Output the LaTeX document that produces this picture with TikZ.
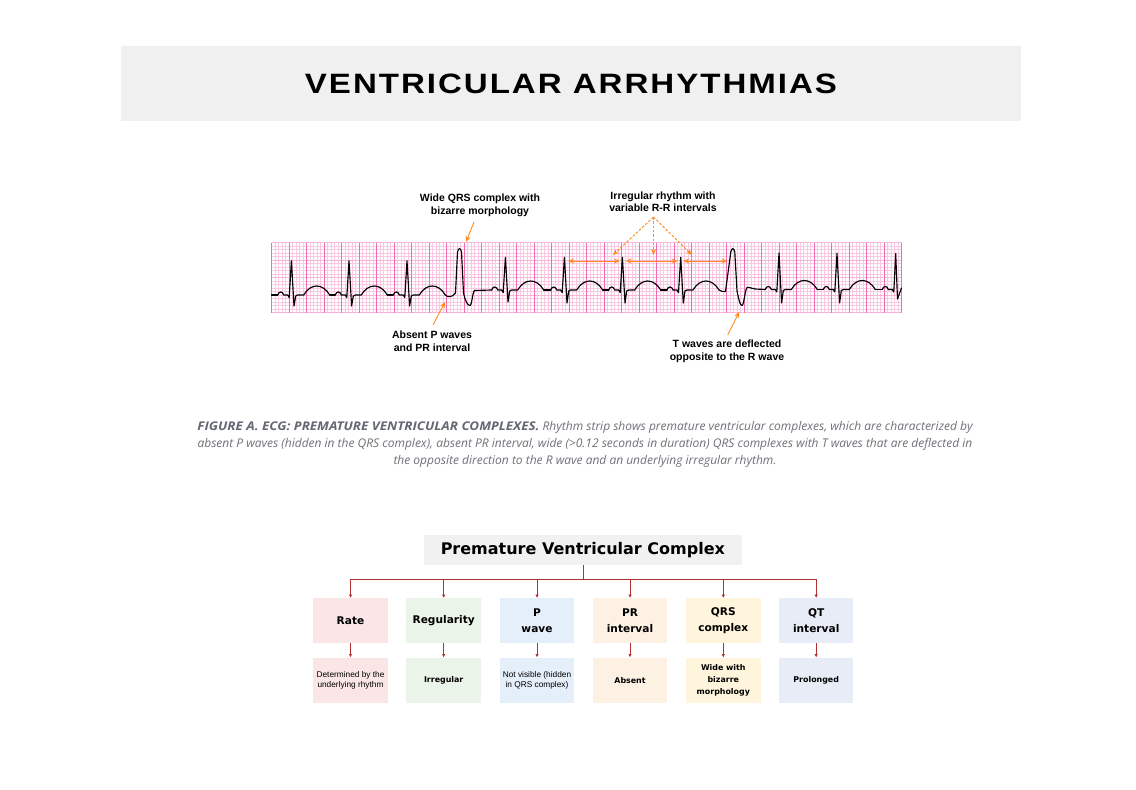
\documentclass[tikz,border=0pt]{standalone}
\usepackage{fontspec}
\usepackage{graphicx}
\usetikzlibrary{arrows.meta}
\setmainfont{Liberation Sans}
\newfontfamily\dvs{DejaVu Sans}
\newfontfamily\osans{Open Sans}
\newfontfamily\ttlfont[LetterSpace=6]{Liberation Sans}
\definecolor{orng}{RGB}{255,140,30}
\definecolor{treered}{RGB}{178,48,52}
\definecolor{gridminor}{RGB}{249,200,226}
\definecolor{gridmajor}{RGB}{240,110,175}
\definecolor{capgray}{RGB}{112,112,120}
\definecolor{capbold}{RGB}{100,104,114}
\definecolor{bandgray}{RGB}{240,240,240}
\definecolor{hdrgray}{RGB}{241,241,241}
\definecolor{cRate}{RGB}{250,230,230}
\definecolor{cReg}{RGB}{235,244,232}
\definecolor{cP}{RGB}{229,239,250}
\definecolor{cPR}{RGB}{253,241,228}
\definecolor{cQRS}{RGB}{254,245,220}
\definecolor{cQT}{RGB}{232,236,247}
\tikzset{
 ecg/.style={black, line width=1.15pt, line join=round, line cap=round},
 ann/.style={font=\bfseries\fontsize{10.5}{12.5}\selectfont, align=center, inner sep=0pt},
 oarr/.style={draw=orng, line width=0.9pt, -{Stealth[length=6pt,width=5pt]}},
 odash/.style={draw=orng, line width=1pt, dash pattern=on 2.5pt off 1.8pt, -{Stealth[length=6pt,width=5pt,fill=orng]}},
 obi/.style={draw=orng, line width=0.9pt, {Stealth[length=6pt,width=5pt]}-{Stealth[length=6pt,width=5pt]}},
 hdrbox/.style={fill=hdrgray, minimum width=317.7pt, minimum height=30pt, inner sep=0pt, font=\dvs\bfseries\fontsize{16}{19}\selectfont},
 cat/.style={minimum width=74.5pt, minimum height=44.5pt, align=center, inner sep=1pt, font=\dvs\bfseries\fontsize{10.6}{16}\selectfont},
 valr/.style={minimum width=74.5pt, minimum height=45pt, align=center, inner sep=1pt, font=\fontsize{8.3}{10}\selectfont},
 valb/.style={minimum width=74.5pt, minimum height=45pt, align=center, inner sep=1pt, font=\dvs\bfseries\fontsize{7.9}{12}\selectfont},
 tarr/.style={draw=treered, line width=0.7pt, -{Latex[length=3.5pt,width=3.5pt]}},
 capline/.style={inner sep=0pt, anchor=base, font=\osans\itshape\fontsize{12}{14}\selectfont, text=capgray},
}
\begin{document}
\begin{tikzpicture}[x=1pt,y=-1pt]
\useasboundingbox (0,0) rectangle (1136,790);
\fill[white] (0,0) rectangle (1136,790);
% title band
\fill[bandgray] (121,46) rectangle (1021,121);
\node (title) at (571,84) {\resizebox{532pt}{\height}{\ttlfont\bfseries\fontsize{28}{30}\selectfont VENTRICULAR ARRHYTHMIAS}};
% ECG grid
\fill[white] (271.5,242.5) rectangle (901.5,312.5);
\foreach \i in {0,...,180} \draw[gridminor, line width=0.4pt] ({271.5+3.5*\i},242.5) -- ++(0,70);
\foreach \j in {0,...,20} \draw[gridminor, line width=0.4pt] (271.5,{242.5+3.5*\j}) -- ++(630,0);
\foreach \j in {0,...,4} \draw[gridminor!80!gridmajor, line width=0.6pt] (271.5,{242.5+17.5*\j}) -- ++(630,0);
\foreach \i in {0,...,36} \draw[gridmajor, line width=0.8pt] ({271.5+17.5*\i},242.5) -- ++(0,70);
% ECG trace: normal beats
\foreach \xr/\yb/\yt/\ys in {291.7/295/260.7/306, 349.3/295/260.7/306, 407.3/295/260.7/306, 505.7/290/257.3/302, 564.7/290/257.3/303, 622.7/290/257.3/303, 681/290/257.3/303, 779.3/289.5/253/303, 837.3/289.5/253.3/303}{
  \draw[ecg] ({\xr-14},\yb) .. controls ({\xr-13},{\yb-4}) and ({\xr-9},{\yb-4}) .. ({\xr-8},\yb) -- ({\xr-4},\yb) -- ({\xr-2.5},{\yb+2.5}) -- ({\xr-0.3},\yt) -- ({\xr+2.3},\ys) -- ({\xr+4},{\yb+1}) -- ({\xr+6},\yb) -- ({\xr+12},\yb) .. controls ({\xr+19},{\yb-12}) and ({\xr+31},{\yb-12}) .. ({\xr+38},\yb);
}
\foreach \xa/\xb/\yb in {291.7/349.3/295, 349.3/407.3/295, 505.7/564.7/290, 564.7/622.7/290, 622.7/681/290, 779.3/837.3/289.5, 837.3/896.3/289.5}{
  \draw[ecg] ({\xa+38},\yb) -- ({\xb-14},\yb);
}
\draw[ecg] (271.5,295) -- (277.7,295);
% PVC 1
\draw[ecg] (445.3,295) .. controls (448,297.5) and (452,297.5) .. (455.5,293) -- (457.5,252) .. controls (458.5,247.5) and (460.5,247.5) .. (461.5,252) -- (463.5,293) .. controls (465,300) and (467.5,306) .. (470,305.5) .. controls (472,305) and (472.5,292) .. (474.5,290.5) -- (491.7,290);
% PVC 2
\draw[ecg] (719,290) .. controls (721,291) and (723,292) .. (725.5,291.5) -- (730.8,252) .. controls (731.8,247.5) and (733.8,247.5) .. (734.8,252) -- (737,291) .. controls (738.5,298) and (740,306) .. (742,305.5) .. controls (744,305) and (745,290) .. (747,287.5) .. controls (749,286.5) and (752,289) .. (755,289) -- (765.3,289.5);
% last beat
\draw[ecg] (882.3,289.5) .. controls (883.3,285.5) and (887.3,285.5) .. (888.3,289.5) -- (892.3,289.5) -- (893.8,292) -- (895.7,253.5) -- (897.5,299) -- (901.5,288);
% annotations
\node[ann] (wqrs) at (480,205.5) {Wide QRS complex with\\bizarre morphology};
\node[ann] (absp) at (432,341) {Absent P waves\\and PR interval};
\node[ann] (irr) at (663,201.5) {Irregular rhythm with\\variable R-R intervals};
\node[ann] (tw) at (727,351.5) {T waves are deflected\\opposite to the R wave};
\coordinate (wqT) at (474,222);
\coordinate (wqH) at (466,242);
\coordinate (apT) at (433,325);
\coordinate (apH) at (445,302);
\coordinate (twT) at (727.7,335);
\coordinate (twH) at (739.3,311.7);
\coordinate (irT) at (653.5,217);
\coordinate (ir1) at (613,255);
\coordinate (ir2) at (653.5,255);
\coordinate (ir3) at (692,255);
\draw[oarr] (wqT) -- (wqH);
\draw[oarr] (apT) -- (apH);
\draw[oarr] (twT) -- (twH);
\draw[odash] (irT) -- (ir1);
\draw[odash] (irT) -- (ir2);
\draw[odash] (irT) -- (ir3);
\coordinate (rr1a) at (568,261); \coordinate (rr1b) at (620,261);
\coordinate (rr2a) at (625.7,261); \coordinate (rr2b) at (677.7,261);
\coordinate (rr3a) at (683.3,261); \coordinate (rr3b) at (727.7,261);
\draw[obi] (rr1a) -- (rr1b);
\draw[obi] (rr2a) -- (rr2b);
\draw[obi] (rr3a) -- (rr3b);
% caption
\node[capline] (cap1) at (585,430.5) {{\bfseries\color{capbold}\scalebox{1.12}[1]{FIGURE A. ECG: PREMATURE VENTRICULAR COMPLEXES.}} Rhythm strip shows premature ventricular complexes, which are characterized by};
\node[capline] (cap2) at (585,447.5) {absent P waves (hidden in the QRS complex), absent PR interval, wide (>0.12 seconds in duration) QRS complexes with T waves that are deflected in};
\node[capline] (cap3) at (585,464.5) {the opposite direction to the R wave and an underlying irregular rhythm.};
% tree
\node[hdrbox] (hdr) at (582.85,550) {Premature Ventricular Complex};
\node[cat, fill=cRate] (rate) at (350.5,620.5) {Rate};
\node[cat, fill=cReg] (reg) at (443.7,620.5) {Regularity};
\node[cat, fill=cP] (pw) at (537,620.5) {P\\wave};
\node[cat, fill=cPR] (pr) at (630,620.5) {PR\\interval};
\node[cat, fill=cQRS] (qrs) at (723.3,620.5) {QRS\\complex};
\node[cat, fill=cQT] (qt) at (816.2,620.5) {QT\\interval};
\node[valr, fill=cRate] (rateV) at (350.5,680.2) {Determined by the\\underlying rhythm};
\node[valb, fill=cReg] (regV) at (443.7,680.2) {Irregular};
\node[valr, fill=cP] (pwV) at (537,680.2) {Not visible (hidden\\in QRS complex)};
\node[valb, fill=cPR] (prV) at (630,680.2) {Absent};
\node[valb, fill=cQRS] (qrsV) at (723.3,680.2) {Wide with\\bizarre\\morphology};
\node[valb, fill=cQT] (qtV) at (816.2,680.2) {Prolonged};
\foreach \n in {rate,reg,pw,pr,qrs,qt}{
  \draw[tarr] (hdr.south) -- ++(0,14.3) -| (\n.north);
  \draw[tarr] (\n.south) -- (\n V.north);
}
\end{tikzpicture}
\end{document}
